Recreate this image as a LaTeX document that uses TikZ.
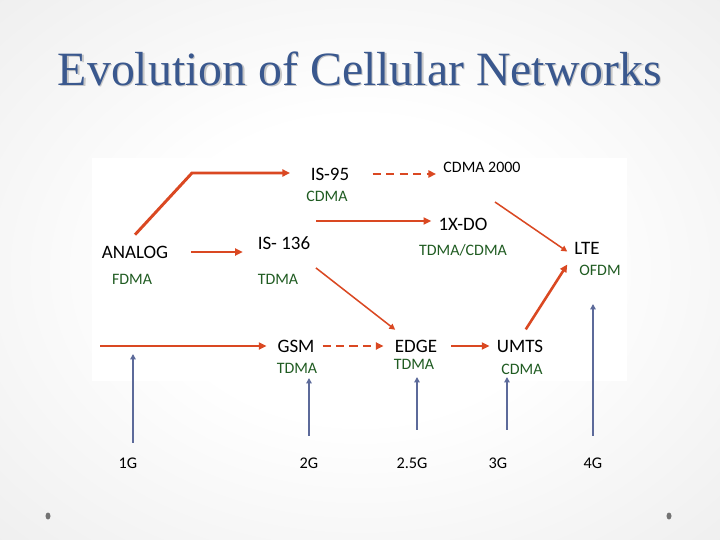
\documentclass[tikz,border=0pt]{standalone}
\usepackage{fontspec}
\setmainfont{Carlito}
\newfontfamily\titlefont{Liberation Serif}
\usetikzlibrary{arrows.meta}
\usetikzlibrary{shadings}
\definecolor{evored}{RGB}{218,72,34}
\definecolor{accgreen}{RGB}{32,92,34}
\definecolor{genblue}{RGB}{92,106,154}
\definecolor{titleblue}{RGB}{58,88,142}

\pgfdeclareradialshading{slidebg}{\pgfpoint{0bp}{0bp}}{color(0bp)=(white); color(14bp)=(white); color(35bp)=(black!6); color(50bp)=(black!12); color(71bp)=(black!20)}

\tikzset{
  tech/.style={font=\fontsize{16.2}{18}\selectfont, inner sep=1pt},
  smalltech/.style={font=\fontsize{13.6}{15}\selectfont, inner sep=1pt},
  access/.style={font=\fontsize{13.6}{15}\selectfont, text=accgreen, inner sep=1pt},
  gen/.style={font=\fontsize{13.9}{15}\selectfont, inner sep=1pt},
  evo/.style={draw=evored, line width=2.5pt, -{Triangle[length=6.5pt,width=6pt]}},
  evothin/.style={draw=evored, line width=1.3pt, -{Triangle[length=5pt,width=5pt]}},
  evodash/.style={evo, dash pattern=on 7pt off 4.5pt},
  genarrow/.style={draw=genblue, line width=1.7pt, -{Triangle[length=4.5pt,width=4.5pt]}}
}

\begin{document}
\begin{tikzpicture}[x=0.3mm, y=-0.3mm]
    \path[use as bounding box] (0, 0) rectangle (720, 540);

    \shade[shading=slidebg] (0, 0) rectangle (720, 540);
    \fill[white] (92, 158) rectangle (627, 381);
    \fill[black!55] (48, 516) ellipse (2.5 and 3.5);
    \fill[black!55] (669, 516) ellipse (2.5 and 3.5);

    \node[font=\titlefont\fontsize{40.8}{48}\selectfont, text=black!22, anchor=base] (titleshadow) at (361.5, 86.5) {Evolution of Cellular Networks};
    \node[font=\titlefont\fontsize{40.8}{48}\selectfont, text=titleblue, anchor=base] (title) at (360, 85) {Evolution of Cellular Networks};

    \node[tech] (analog) at (135, 252) {ANALOG};
    \node[access] (analogacc) at (132, 279) {FDMA};
    \node[tech] (is95) at (330, 174) {IS-95};
    \node[access] (is95acc) at (327, 196) {CDMA};
    \node[tech] (is136) at (284, 243) {IS- 136};
    \node[access] (is136acc) at (278, 279) {TDMA};
    \node[smalltech] (cdmak) at (482, 167) {CDMA 2000};
    \node[tech] (onexdo) at (463, 224) {1X-DO};
    \node[access] (onexdoacc) at (463, 250) {TDMA/CDMA};
    \node[tech] (lte) at (587, 248) {LTE};
    \node[access] (lteacc) at (600, 270) {OFDM};
    \node[tech] (gsm) at (296, 346) {GSM};
    \node[access] (gsmacc) at (297, 368) {TDMA};
    \node[tech] (edge) at (416, 346) {EDGE};
    \node[access] (edgeacc) at (414, 364) {TDMA};
    \node[tech] (umts) at (520, 346) {UMTS};
    \node[access] (umtsacc) at (522, 369) {CDMA};

    \coordinate (bendfive) at (192, 173);
    \coordinate (dofrom) at (316, 221);
    \coordinate (cdmakfrom) at (495, 202);
    \coordinate (gsmfrom) at (100, 346);

    \draw[evo, shorten >=5.8mm] ([yshift=2.9mm]analog.north) -- (bendfive) -- (bendfive -| is95.west);
    \draw[evodash, shorten <=6.6mm, shorten >=1.8mm] (is95.east) -- (is95.east -| cdmak.west);
    \draw[evo, shorten >=1.8mm] (dofrom) -- (dofrom -| onexdo.west);
    \draw[evo, shorten <=6.5mm, shorten >=4.1mm] (analog.east) -- (analog.east -| is136.west);
    \draw[evothin, shorten >=2.1mm] (cdmakfrom) -- (lte.south west);
    \draw[evothin, shorten <=8.3mm, shorten >=4.2mm] (is136) -- (edge);
    \draw[evo, line width=2pt, shorten >=2.9mm] (gsmfrom) -- (gsm.west);
    \draw[evodash, shorten <=2mm, shorten >=3mm] (gsm.east) -- (edge.west);
    \draw[evo, shorten <=3.8mm, shorten >=1.8mm] (edge.east) -- (umts.west);
    \draw[evo, line width=2.2pt, shorten <=3.2mm, shorten >=3.2mm] (umts.north) -- (lte.south west);

    \foreach \n/\lab/\lx/\ax/\bot/\top/\lw in {1/1G/128/133/4.0mm/354/1.7pt, 2/2G/309/309/6.2mm/378/1.7pt, 3/2.5G/412/417/8.0mm/377/1.7pt, 4/3G/498/507/8.0mm/377/1.7pt, 5/4G/593/593/6.2mm/304/1.1pt} {
      \node[gen] (g\n) at (\lx, 463) {\lab};
      \coordinate (gtip\n) at (\ax, \top);
      \draw[genarrow, line width=\lw, shorten <=\bot] (g\n.north -| gtip\n) -- (gtip\n);
    }
\end{tikzpicture}
\end{document}
